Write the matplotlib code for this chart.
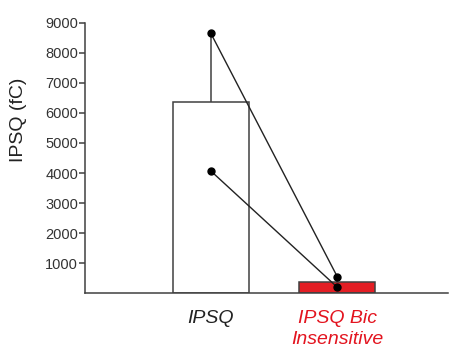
import numpy as np
import matplotlib.pyplot as plt

plt.rcParams['font.family'] = ['Liberation Sans', 'DejaVu Sans']

categories = ['IPSQ', 'IPSQ Bic\nInsensitive']
cat_colors = ['#222222', '#e3141f']
bar_colors = ['white', '#e31e24']
# paired measurements (fC): cell 1, cell 2
ipsq = [8650, 4070]
ipsq_bic = [550, 200]
yticks = [1000, 2000, 3000, 4000, 5000, 6000, 7000, 8000, 9000]

groups = [np.array(ipsq), np.array(ipsq_bic)]
means = [g.mean() for g in groups]
sems = [g.std(ddof=1) / np.sqrt(len(g)) for g in groups]
x = np.arange(len(categories))

fig = plt.figure(figsize=(4.54, 3.55), dpi=100)
ax = fig.add_axes([0.1872, 0.1738, 0.8, 0.7623])

edge = '#404040'
ax.bar(x, means, width=0.6, color=bar_colors, edgecolor=edge, linewidth=1.1, zorder=2)
ax.errorbar(x, means, yerr=[[0, 0], sems], fmt='none', ecolor=edge, elinewidth=1.1,
            capsize=0, zorder=1)

for a, b in zip(ipsq, ipsq_bic):
    ax.plot(x, [a, b], color='#222222', lw=1.0, marker='o', ms=5,
            mfc='black', mec='black', zorder=3)

ax.set_xlim(-0.994, 1.876)
ax.set_ylim(0, 9000)
ax.set_yticks(yticks)
ax.tick_params(axis='y', direction='out', length=4, width=1.1, color=edge,
               labelsize=10.5, labelcolor='#333333', pad=1)
ax.set_xticks(x)
ax.set_xticklabels(categories, fontsize=14, fontstyle='italic', linespacing=1.3)
for lab, c in zip(ax.get_xticklabels(), cat_colors):
    lab.set_color(c)
ax.tick_params(axis='x', length=0, pad=12)

ax.set_ylabel('IPSQ (fC)', fontsize=14, color='#222222', labelpad=13, y=0.64)

for s in ['top', 'right']:
    ax.spines[s].set_visible(False)
for s in ['left', 'bottom']:
    ax.spines[s].set_color(edge)
    ax.spines[s].set_linewidth(1.1)

fig.savefig('out.png', dpi=100)
